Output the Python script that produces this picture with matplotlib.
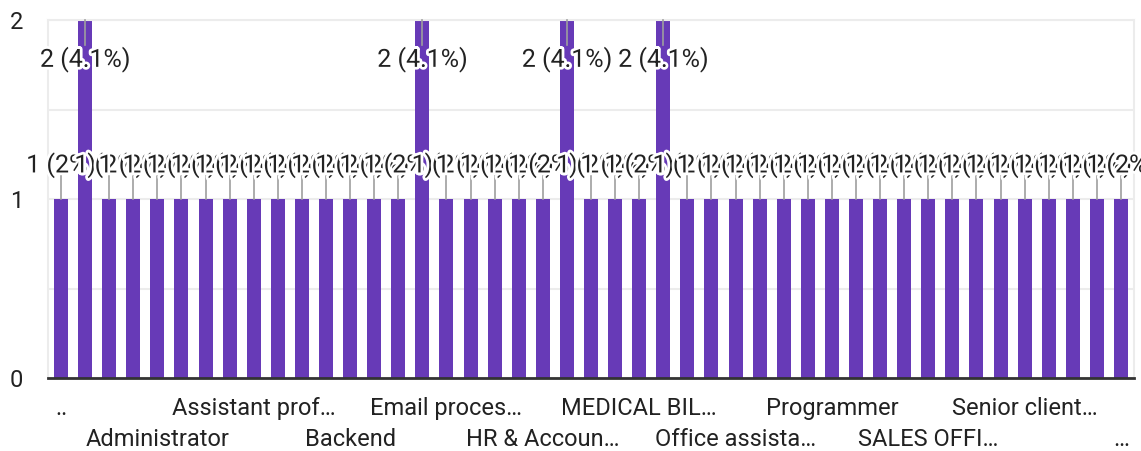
import matplotlib
matplotlib.use("Agg")
import matplotlib.pyplot as plt
import matplotlib.patheffects as pe

plt.rcParams['font.family'] = ['Roboto', 'DejaVu Sans']

# responses per job title (45 answers, 49 responses)
counts = [1, 2, 1, 1, 1, 1, 1, 1, 1, 1, 1, 1, 1, 1, 1, 2, 1, 1, 1, 1, 1, 2, 1, 1, 1,
          2, 1, 1, 1, 1, 1, 1, 1, 1, 1, 1, 1, 1, 1, 1, 1, 1, 1, 1, 1]
total = sum(counts)

# only every fourth category name fits under the axis
tick_idx = [0, 4, 8, 12, 16, 20, 24, 28, 32, 36, 40, 44]
tick_labels = ["..", "Administrator", "Assistant prof…", "Backend", "Email proces…",
               "HR & Accoun…", "MEDICAL BIL…", "Office assista…", "Programmer",
               "SALES OFFI…", "Senior client…", "…"]

purple = "#673ab7"
text_col = "#222222"
fs = 17
fs_val = 18

fig = plt.figure(figsize=(11.41, 4.51), dpi=100)
ax = fig.add_axes([48 / 1141, (451 - 378) / 451, 1086 / 1141, 358 / 451])

x = list(range(len(counts)))
ax.bar(x, counts, width=0.58, color=purple, zorder=2)

ax.set_xlim(-0.54, len(counts) - 0.46)
ax.set_ylim(0, 2)
ax.set_yticks([0, 1, 2])
ax.set_yticks([0.5, 1.5], minor=True)
ax.set_xticks([])
ax.grid(axis='y', which='both', color='#ececec', lw=1.5, zorder=0)
ax.tick_params(axis='y', which='both', length=0, pad=18, labelsize=fs, labelcolor=text_col)

for side in ('left', 'right', 'top'):
    ax.spines[side].set_color('#ececec')
    ax.spines[side].set_linewidth(1.5)
ax.spines['bottom'].set_color('#333333')
ax.spines['bottom'].set_linewidth(2)
ax.spines['bottom'].set_zorder(4)

halo = [pe.withStroke(linewidth=4, foreground='white')]

# leader lines first, value labels on top in bar order
for i, c in enumerate(counts):
    if c >= 2:
        ax.plot([i, i], [c, c - 0.14], color='#9e9e9e', lw=1.2, zorder=3, clip_on=False)
    else:
        ax.plot([i, i], [c, c + 0.15], color='#9e9e9e', lw=1.2, zorder=3)

for i, c in enumerate(counts):
    pct = f"{100 * c / total:.1f}".rstrip('0').rstrip('.')
    label = f"{c} ({pct}%)"
    y = c - 0.22 if c >= 2 else c + 0.19
    ax.text(i, y, label, ha='center', va='center', fontsize=fs_val, color=text_col,
            path_effects=halo, zorder=5, clip_on=False)

# staggered category names
tr = ax.get_xaxis_transform()
for k, (i, lab) in enumerate(zip(tick_idx, tick_labels)):
    yrow = -0.085 if k % 2 == 0 else -0.172
    ax.text(i, yrow, lab, transform=tr, ha='center', va='center',
            fontsize=fs, color=text_col)

fig.savefig("out.png", dpi=100)
